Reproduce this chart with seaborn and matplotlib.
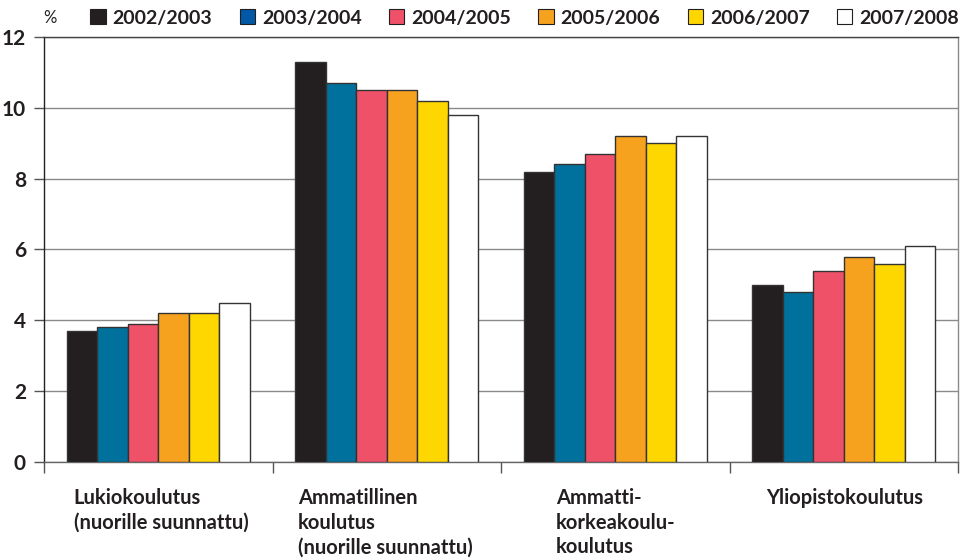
import matplotlib
matplotlib.use("Agg")
import matplotlib.pyplot as plt
from matplotlib.patches import Patch
import seaborn as sns
import pandas as pd

# Education sectors (x groups) and academic years (hue series)
categories = [
    "Lukiokoulutus\n(nuorille suunnattu)",
    "Ammatillinen\nkoulutus\n(nuorille suunnattu)",
    "Ammatti-\nkorkeakoulu-\nkoulutus",
    "Yliopistokoulutus",
]
years = ["2002/2003", "2003/2004", "2004/2005", "2005/2006", "2006/2007", "2007/2008"]

# Percentage per year, one list per sector
lukio = [3.7, 3.8, 3.9, 4.2, 4.2, 4.5]
ammatillinen = [11.3, 10.7, 10.5, 10.5, 10.2, 9.8]
amk = [8.2, 8.4, 8.7, 9.2, 9.0, 9.2]
yliopisto = [5.0, 4.8, 5.4, 5.8, 5.6, 6.1]
values = [lukio, ammatillinen, amk, yliopisto]

y_ticks = [0, 2, 4, 6, 8, 10, 12]

bar_colors = ["#231f20", "#00709c", "#ef5169", "#f7a21e", "#ffd700", "#ffffff"]
legend_colors = ["#231f20", "#0058a6", "#ef5169", "#f7a21e", "#ffd700", "#ffffff"]

rows = []
for cat, vals in zip(categories, values):
    for yr, v in zip(years, vals):
        rows.append({"sektori": cat, "vuosi": yr, "osuus": v})
df = pd.DataFrame(rows)

sns.set_theme(style="white")
plt.rcParams["font.family"] = ["Lato", "DejaVu Sans"]
plt.rcParams["font.weight"] = "bold"

TEXT = "#231f20"

fig = plt.figure(figsize=(9.61, 5.6), dpi=100)
ax = fig.add_axes([0.0458, 0.175, 0.9511, 0.759])

sns.barplot(
    data=df, x="sektori", y="osuus", hue="vuosi",
    order=categories, hue_order=years, palette=bar_colors, saturation=1,
    width=0.8, gap=0, edgecolor="#333333", linewidth=1.0,
    errorbar=None, legend=False, ax=ax, zorder=3,
)

ax.set_ylim(0, 12)
ax.set_xlim(-0.5, len(categories) - 0.5)
ax.set_yticks(y_ticks)
ax.set_yticklabels([str(t) for t in y_ticks], fontsize=15, color=TEXT,
                   fontweight="bold")
ax.yaxis.grid(True, color="#8a8a8a", linewidth=1.0, zorder=0)
ax.set_axisbelow(True)
ax.tick_params(axis="y", length=7, width=1, color="#555555", pad=6, left=True)

# Group separators as ticks below the baseline
ax.set_xticks([])
ax.set_xticks([i - 0.5 for i in range(len(categories) + 1)], minor=True)
ax.tick_params(axis="x", which="minor", length=8, width=1, color="#555555", bottom=True)
ax.set_xlabel("")
ax.set_ylabel("")

for side in ["left", "right", "top", "bottom"]:
    ax.spines[side].set_visible(True)
    ax.spines[side].set_linewidth(1.0)
ax.spines["left"].set_color(TEXT)
ax.spines["top"].set_color("#444444")
ax.spines["right"].set_color("#8a8a8a")
ax.spines["bottom"].set_color("#666666")

# Sector labels, left-aligned beneath each group
label_offsets = [-0.37, -0.39, -0.26, -0.34]
for i, (cat, off) in enumerate(zip(categories, label_offsets)):
    ax.text(i + off, -0.062, cat, transform=ax.get_xaxis_transform(),
            ha="left", va="top", fontsize=14.5, color=TEXT,
            fontweight="bold", linespacing=1.28)

# Percent unit above the y axis
fig.text(0.052, 0.968, "%", ha="center", va="center", fontsize=12,
         color=TEXT, fontweight="normal")

handles = [Patch(facecolor=c, edgecolor=TEXT, linewidth=0.8) for c in legend_colors]
leg = fig.legend(handles, years, loc="center left", bbox_to_anchor=(0.094, 0.968),
                 ncol=6, frameon=False, fontsize=14, handlelength=0.8,
                 handleheight=0.8, handletextpad=0.35, columnspacing=1.4,
                 borderaxespad=0, borderpad=0)
for t in leg.get_texts():
    t.set_fontweight("bold")
    t.set_color(TEXT)

fig.savefig("out.png", dpi=100)
